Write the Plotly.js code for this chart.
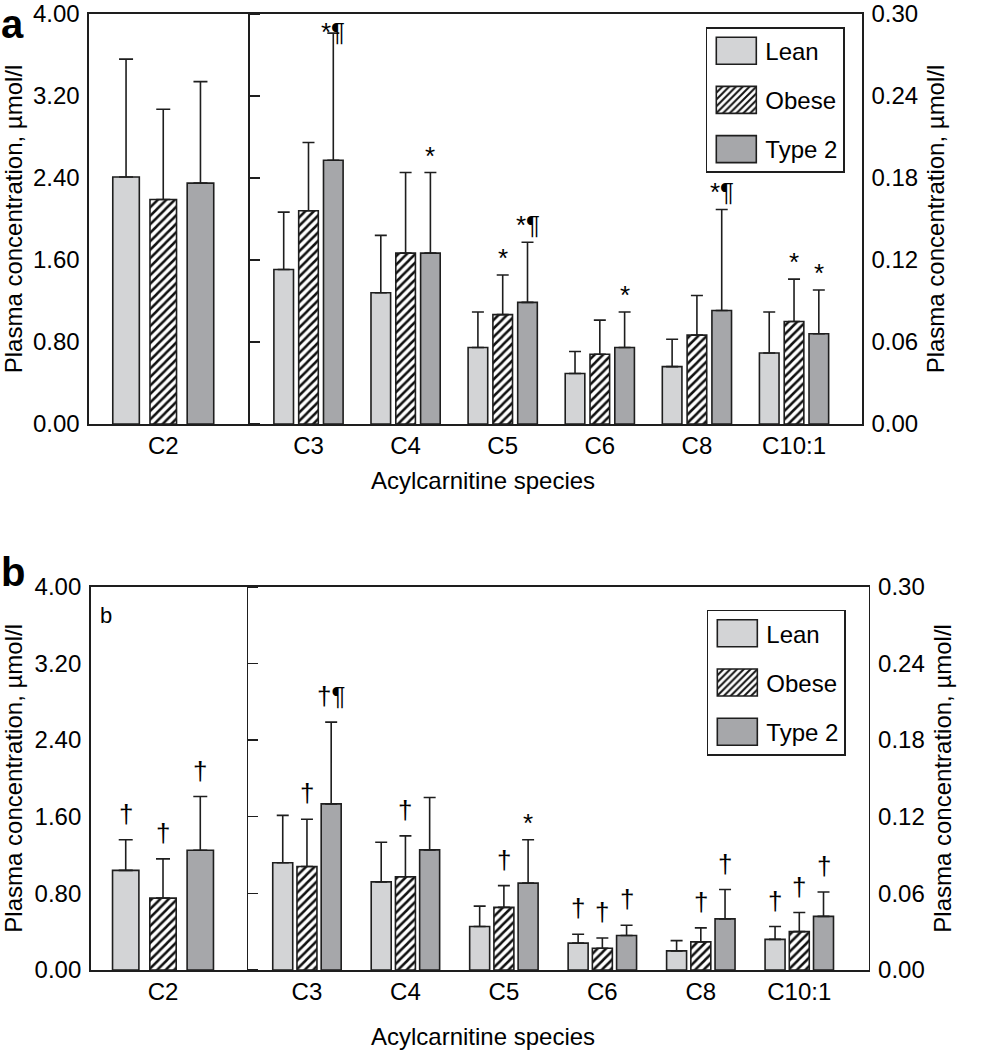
<!DOCTYPE html>
<html>
<head>
<meta charset="utf-8">
<script src="https://cdn.plot.ly/plotly-3.0.1.min.js"></script>
<style>html,body{margin:0;padding:0;background:#fff;}</style>
</head>
<body>
<div id="chart" style="width:983px;height:1050px;"></div>
<script>
// ---------------- DATA ----------------
const groupNames = ['Lean', 'Obese', 'Type 2'];
const catLeft = ['C2'];
const catRight = ['C3', 'C4', 'C5', 'C6', 'C8', 'C10:1'];
const leftTicks = [0, 0.8, 1.6, 2.4, 3.2, 4.0];
const rightTicks = [0, 0.06, 0.12, 0.18, 0.24, 0.30];
const leftRange = [0, 4];
const rightRange = [0, 0.30];

// Panel a – C2 (left axis, order Lean, Obese, Type 2)
const aC2Mean = [2.41, 2.19, 2.35];
const aC2SD = [1.15, 0.88, 0.99];
const aC2Sig = ['', '', ''];
// Panel a – right axis
const aLeanMean = [0.113, 0.096, 0.056, 0.037, 0.042, 0.052];
const aLeanSD = [0.042, 0.042, 0.026, 0.016, 0.020, 0.030];
const aLeanSig = ['', '', '', '', '', ''];
const aObeseMean = [0.156, 0.125, 0.080, 0.051, 0.065, 0.075];
const aObeseSD = [0.050, 0.059, 0.029, 0.025, 0.029, 0.031];
const aObeseSig = ['', '', '*', '', '', '*'];
const aType2Mean = [0.193, 0.125, 0.089, 0.056, 0.083, 0.066];
const aType2SD = [0.093, 0.059, 0.044, 0.026, 0.074, 0.032];
const aType2Sig = ['*¶', '*', '*¶', '*', '*¶', '*'];

// Panel b – C2 (left axis)
const bC2Mean = [1.04, 0.75, 1.25];
const bC2SD = [0.32, 0.41, 0.56];
const bC2Sig = ['†', '†', '†'];
// Panel b – right axis
const bLeanMean = [0.084, 0.069, 0.034, 0.021, 0.015, 0.024];
const bLeanSD = [0.037, 0.031, 0.016, 0.007, 0.008, 0.010];
const bLeanSig = ['', '', '', '†', '', '†'];
const bObeseMean = [0.081, 0.073, 0.049, 0.017, 0.022, 0.030];
const bObeseSD = [0.037, 0.032, 0.017, 0.008, 0.011, 0.015];
const bObeseSig = ['†', '†', '†', '†', '†', '†'];
const bType2Mean = [0.130, 0.094, 0.068, 0.027, 0.040, 0.042];
const bType2SD = [0.064, 0.041, 0.034, 0.008, 0.023, 0.019];
const bType2Sig = ['†¶', '', '*', '†', '†', '†'];

// ---------------- STYLE ----------------
const FONT = 'Liberation Sans, Arial, Helvetica, sans-serif';
const INK = '#1e1e1e';
const fills = ['#d3d4d6', '#ffffff', '#a6a7aa'];
const patterns = [
  {shape: ''},
  {shape: '/', fgcolor: '#111111', bgcolor: '#ffffff', size: 6, solidity: 0.42},
  {shape: ''}
];

// geometry per panel (bar widths / offsets in category units)
const geo = {
  a: {
    left:  {width: 0.167, offsets: [-0.3175, -0.0835, 0.1505]},
    right: {width: 0.202, offsets: [-0.3564, -0.101, 0.1544]}
  },
  b: {
    left:  {width: 0.169, offsets: [-0.3235, -0.0845, 0.1545]},
    right: {width: 0.203, offsets: [-0.3475, -0.1015, 0.1445]}
  }
};

const traces = [];
const annotations = [];

function sigNotes(labels, means, sds, xCenter, xref, yref, axMax) {
  labels.forEach((t, i) => {
    if (!t) return;
    const top = means[i] + sds[i];
    const crowded = top > 0.92 * axMax;   // no room above: tuck the label under the frame
    annotations.push({
      xref: xref, yref: yref,
      x: i + xCenter, y: crowded ? axMax : top,
      text: t, showarrow: false,
      xanchor: 'center', yanchor: crowded ? 'top' : 'bottom',
      yshift: crowded ? -1 : (t.indexOf('†') >= 0 ? 9 : 0),
      font: {family: FONT, size: 26, color: '#000'}
    });
  });
}

function addPanel(p, axL, axR, legendId, leftMean, leftSD, leftSig, rMeans, rSDs, rSigs) {
  const gL = geo[p].left, gR = geo[p].right;
  groupNames.forEach((name, g) => {
    // C2 section; the last group sits on the overlaid divider axis so that axis gets drawn
    const yC2 = g === 2 ? axL.yDiv : axL.y;
    traces.push({
      type: 'bar', name: name, x: catLeft, y: [leftMean[g]],
      xaxis: axL.x, yaxis: yC2,
      width: gL.width, offset: gL.offsets[g],
      marker: {color: fills[g], pattern: patterns[g], line: {color: INK, width: 1.6}},
      error_y: {type: 'data', symmetric: false, array: [leftSD[g]], arrayminus: [0],
                color: INK, thickness: 1.6, width: 7},
      showlegend: false, hoverinfo: 'skip'
    });
    sigNotes([leftSig[g]], [leftMean[g]], [leftSD[g]], gL.offsets[g] + gL.width / 2, axL.x, axL.y, leftRange[1]);
    // right section (right axis)
    traces.push({
      type: 'bar', name: name, x: catRight, y: rMeans[g],
      xaxis: axR.x, yaxis: axR.y,
      width: gR.width, offset: gR.offsets[g],
      marker: {color: fills[g], pattern: patterns[g], line: {color: INK, width: 1.6}},
      error_y: {type: 'data', symmetric: false, array: rSDs[g], arrayminus: rSDs[g].map(() => 0),
                color: INK, thickness: 1.6, width: 6},
      legend: legendId, legendgroup: p + name, showlegend: true, hoverinfo: 'skip'
    });
    sigNotes(rSigs[g], rMeans[g], rSDs[g], gR.offsets[g] + gR.width / 2, axR.x, axR.y, rightRange[1]);
  });
}

addPanel('a', {x: 'x', y: 'y', yDiv: 'y5'}, {x: 'x2', y: 'y2'}, 'legend',
  aC2Mean, aC2SD, aC2Sig,
  [aLeanMean, aObeseMean, aType2Mean], [aLeanSD, aObeseSD, aType2SD], [aLeanSig, aObeseSig, aType2Sig]);
addPanel('b', {x: 'x3', y: 'y3', yDiv: 'y6'}, {x: 'x4', y: 'y4'}, 'legend2',
  bC2Mean, bC2SD, bC2Sig,
  [bLeanMean, bObeseMean, bType2Mean], [bLeanSD, bObeseSD, bType2SD], [bLeanSig, bObeseSig, bType2Sig]);

const tickFont = {family: FONT, size: 24, color: '#000'};
const titleFont = {family: FONT, size: 24, color: '#000'};
const yTitle = 'Plasma concentration, µmol/l';

function xAx(domain, range, anchor) {
  return {domain: domain, range: range, anchor: anchor, type: 'category',
    showline: true, mirror: true, linecolor: INK, linewidth: 1.6,
    ticks: '', showgrid: false, zeroline: false, tickfont: tickFont, fixedrange: true};
}
function yAx(domain, range, ticks, anchor, side) {
  return {domain: domain, range: range, anchor: anchor, side: side,
    tickvals: ticks, tickformat: '.2f', ticks: '', showline: true, linecolor: INK, linewidth: 1.6,
    showgrid: false, zeroline: false, tickfont: tickFont, ticklabelstandoff: 3, fixedrange: true,
    title: {text: yTitle, font: titleFont, standoff: 10}};
}
function dividerAx(domain, over, anchor) {
  return {domain: domain, range: leftRange, overlaying: over, anchor: anchor, side: 'right',
    tickvals: leftTicks, ticks: 'outside', ticklen: 10, tickwidth: 1.6, tickcolor: INK,
    showticklabels: false, showline: true, linecolor: INK, linewidth: 1.6,
    showgrid: false, zeroline: false, fixedrange: true};
}

const yDomA = [0.57113, 1];
const yDomB = [0, 0.40094];

const legendBase = {
  xanchor: 'left', yanchor: 'top', bgcolor: '#ffffff', bordercolor: INK, borderwidth: 1.6,
  font: {family: FONT, size: 24, color: '#000'}, itemwidth: 48, tracegroupgap: 15,
  traceorder: 'grouped'
};

annotations.push(
  {xref: 'paper', yref: 'paper', x: -0.114, y: 1.0146, xanchor: 'left', yanchor: 'top',
   text: '<b>a</b>', showarrow: false, font: {family: FONT, size: 40, color: '#000'}},
  {xref: 'paper', yref: 'paper', x: -0.114, y: 0.441, xanchor: 'left', yanchor: 'top',
   text: '<b>b</b>', showarrow: false, font: {family: FONT, size: 40, color: '#000'}},
  {xref: 'paper', yref: 'paper', x: 0.0125, y: 0.386, xanchor: 'left', yanchor: 'top',
   text: 'b', showarrow: false, font: {family: FONT, size: 22, color: '#000'}},
  {xref: 'paper', yref: 'paper', x: 0.505, y: 0.528, xanchor: 'center', yanchor: 'top',
   text: 'Acylcarnitine species', showarrow: false, font: titleFont},
  {xref: 'paper', yref: 'paper', x: 0.505, y: -0.053, xanchor: 'center', yanchor: 'top',
   text: 'Acylcarnitine species', showarrow: false, font: titleFont}
);

const layout = {
  width: 983, height: 1050,
  margin: {l: 88, r: 113, t: 14, b: 80},
  paper_bgcolor: '#ffffff', plot_bgcolor: 'rgba(0,0,0,0)',
  font: {family: FONT, color: '#000'},
  barmode: 'overlay',
  xaxis:  xAx([0.00128, 0.2046], [-0.467, 0.533], 'y'),
  xaxis2: xAx([0.2046, 0.98977], [-0.623, 5.70], 'y2'),
  xaxis3: xAx([0.00345, 0.20294], [-0.4635, 0.5365], 'y3'),
  xaxis4: xAx([0.20294, 0.99834], [-0.612, 5.705], 'y4'),
  yaxis:  yAx(yDomA, leftRange, leftTicks, 'x', 'left'),
  yaxis2: yAx(yDomA, rightRange, rightTicks, 'x2', 'right'),
  yaxis3: yAx(yDomB, leftRange, leftTicks, 'x3', 'left'),
  yaxis4: yAx(yDomB, rightRange, rightTicks, 'x4', 'right'),
  yaxis5: dividerAx(yDomA, 'y', 'x'),
  yaxis6: dividerAx(yDomB, 'y3', 'x3'),
  legend:  Object.assign({}, legendBase, {x: 0.7899, y: 0.9864}),
  legend2: Object.assign({}, legendBase, {x: 0.7912, y: 0.377}),
  annotations: annotations,
  showlegend: true
};

const SWATCH = 'M20,13.5H-20V-13.5H20Z';
function enlargeSwatches(gd) {
  gd.querySelectorAll('.legendpoints path').forEach(p => {
    if (p.getAttribute('d') !== SWATCH) p.setAttribute('d', SWATCH);
  });
}

const gdDiv = document.getElementById('chart');
new MutationObserver(() => enlargeSwatches(gdDiv)).observe(gdDiv, {childList: true, subtree: true});
Plotly.newPlot(gdDiv, traces, layout, {staticPlot: true, displayModeBar: false}).then(gd => {
  enlargeSwatches(gd);
  setTimeout(() => enlargeSwatches(gd), 30);
});
</script>
</body>
</html>
